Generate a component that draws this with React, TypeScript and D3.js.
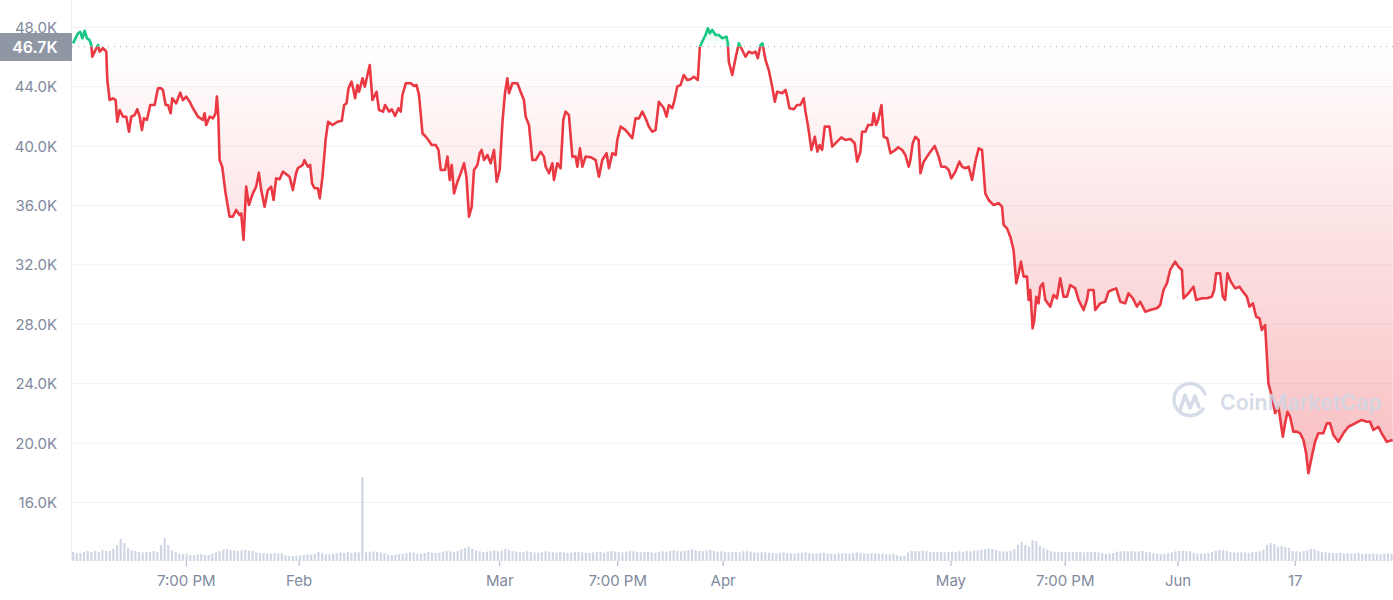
import { useEffect } from 'react'
import * as d3 from 'd3'

// price points: [days since Jan 1, price in thousands USD]
const priceSeries: [number, number][] = [
  [0.14, 46.92], [0.82, 47.6], [1.13, 47.7], [1.41, 47.26], [1.73, 47.77], [2.05, 47.26], [2.41, 47.14],
  [2.63, 46.81], [2.77, 46.02], [3.1, 46.36], [3.55, 46.81], [3.78, 46.36], [4.23, 46.59], [4.68, 46.36],
  [4.82, 44.45], [5.14, 43.1], [5.59, 43.22], [5.96, 43.1], [6.18, 41.64], [6.51, 42.43], [6.96, 41.98],
  [7.41, 41.98], [7.78, 40.97], [8.09, 41.98], [8.55, 42.09], [8.91, 42.48], [9.24, 41.98], [9.55, 41.08],
  [9.82, 41.87], [10.23, 41.76], [10.68, 42.77], [11.28, 42.77], [11.73, 43.89], [12.18, 43.89], [12.41, 43.78],
  [12.78, 42.77], [13.1, 42.77], [13.47, 42.21], [13.68, 43.22], [14.23, 42.88], [14.77, 43.6], [15.14, 43.1],
  [15.59, 43.33], [16.06, 42.99], [16.51, 42.55], [17.19, 41.98], [17.87, 41.76], [18.1, 42.21], [18.32, 41.42],
  [18.79, 41.98], [19.24, 41.87], [19.6, 42.21], [19.78, 43.33], [19.96, 42.21], [20.15, 39.06], [20.51, 38.61],
  [20.97, 36.82], [21.51, 35.25], [21.96, 35.25], [22.41, 35.7], [22.88, 35.36], [23.1, 35.47], [23.42, 33.68],
  [23.78, 37.27], [24.15, 36.03], [24.69, 36.82], [25.14, 37.27], [25.51, 38.21], [25.83, 37.04], [26.29, 35.92],
  [26.74, 37.04], [27.19, 37.27], [27.52, 36.37], [27.87, 37.83], [28.34, 37.76], [28.79, 38.28], [29.7, 37.94],
  [30.15, 37.04], [30.6, 38.17], [30.83, 38.51], [31.51, 38.73], [31.73, 39.06], [32.2, 38.61], [32.51, 38.73],
  [32.78, 37.49], [33.1, 37.16], [33.56, 37.16], [33.83, 36.48], [34.2, 37.94], [34.65, 40.53], [34.97, 41.64],
  [35.57, 41.42], [36.25, 41.64], [36.84, 41.71], [37.15, 42.77], [37.48, 42.88], [37.75, 43.89], [38.16, 44.34],
  [38.38, 43.89], [38.65, 43.22], [38.98, 44.11], [39.2, 43.66], [39.66, 44.57], [39.97, 44.0], [40.34, 44.79],
  [40.65, 45.46], [41.02, 43.1], [41.57, 43.66], [41.92, 42.43], [42.47, 42.32], [42.74, 42.77], [43.29, 42.32],
  [43.66, 42.48], [44.11, 42.03], [44.57, 42.55], [44.88, 42.32], [45.11, 43.44], [45.57, 44.23], [46.25, 44.23],
  [46.7, 44.05], [47.03, 44.11], [47.38, 43.44], [47.85, 40.86], [48.3, 40.63], [48.66, 40.41], [49.11, 40.07],
  [49.66, 40.07], [50.03, 39.74], [50.34, 38.39], [50.93, 38.39], [51.26, 39.29], [51.57, 37.72], [51.84, 38.73],
  [52.16, 36.82], [52.62, 37.6], [53.07, 38.17], [53.52, 38.84], [53.85, 37.94], [54.2, 35.25], [54.57, 35.92],
  [54.88, 38.39], [55.35, 38.73], [55.66, 39.52], [55.93, 39.74], [56.25, 39.06], [56.71, 39.4], [57.16, 38.84],
  [57.61, 39.74], [57.98, 37.6], [58.39, 38.39], [58.76, 41.54], [59.11, 43.56], [59.44, 44.57], [59.66, 43.56],
  [60.12, 44.23], [60.8, 44.23], [61.25, 43.66], [61.7, 43.1], [61.94, 41.98], [62.39, 41.42], [62.85, 39.06],
  [63.3, 39.06], [63.98, 39.62], [64.43, 39.29], [64.67, 38.61], [65.12, 38.17], [65.58, 38.84], [65.8, 37.72],
  [66.26, 38.84], [66.71, 38.51], [67.08, 41.76], [67.39, 42.32], [67.84, 42.09], [68.31, 39.29], [68.76, 39.29],
  [68.99, 38.61], [69.35, 39.85], [69.67, 38.61], [70.12, 39.29], [70.81, 39.25], [71.49, 39.06], [71.94, 37.94],
  [72.4, 39.06], [72.99, 39.52], [73.3, 38.51], [73.77, 39.52], [74.22, 39.4], [74.45, 40.41], [74.9, 41.31],
  [75.58, 41.08], [76.49, 40.53], [76.94, 41.87], [77.4, 41.87], [77.86, 42.32], [78.31, 41.87], [78.76, 41.31],
  [79.22, 40.97], [79.67, 41.08], [80.12, 42.99], [80.8, 42.55], [81.17, 41.98], [81.49, 42.77], [81.95, 42.55],
  [82.26, 43.1], [82.63, 44.0], [83.08, 44.11], [83.53, 44.79], [83.99, 44.45], [84.45, 44.5], [84.9, 44.67],
  [85.44, 44.45], [85.72, 46.69], [86.04, 47.03], [86.49, 47.48], [86.81, 47.93], [87.08, 47.6], [87.41, 47.82],
  [87.86, 47.48], [88.31, 47.48], [88.77, 47.26], [89.36, 47.37], [89.54, 46.92], [89.67, 45.68], [90.14, 44.79],
  [90.59, 45.91], [91.04, 46.92], [91.5, 46.47], [91.95, 46.02], [92.4, 46.36], [92.87, 46.25], [93.32, 46.36],
  [93.63, 45.91], [94.0, 46.81], [94.27, 46.92], [94.68, 45.8], [95.13, 45.12], [95.59, 44.0], [95.95, 42.99],
  [96.27, 43.66], [96.96, 43.56], [97.41, 43.78], [97.64, 43.33], [97.95, 42.55], [98.54, 42.48], [99.0, 42.77],
  [99.45, 42.77], [99.9, 43.22], [100.14, 42.32], [100.5, 41.31], [100.95, 39.74], [101.41, 40.63], [101.77, 39.62],
  [102.05, 40.07], [102.41, 39.74], [102.77, 41.31], [103.41, 41.31], [103.78, 39.96], [104.46, 40.3], [105.05, 40.59],
  [105.59, 40.41], [106.28, 40.48], [106.86, 40.19], [107.19, 38.95], [107.64, 39.62], [107.87, 40.97], [108.32, 40.97],
  [108.69, 41.42], [109.24, 41.42], [109.45, 42.21], [109.78, 41.42], [110.06, 41.76], [110.51, 42.77], [110.82, 40.63],
  [111.29, 40.53], [111.74, 39.52], [112.42, 39.74], [112.79, 39.92], [113.34, 39.74], [113.78, 39.4], [114.23, 38.61],
  [114.46, 39.06], [114.78, 40.19], [115.14, 40.63], [115.59, 40.41], [115.83, 38.17], [116.28, 38.95], [116.74, 39.29],
  [117.19, 39.62], [117.78, 40.01], [118.32, 39.29], [118.69, 38.61], [119.24, 38.61], [119.69, 38.39], [120.05, 37.83],
  [120.6, 38.28], [121.15, 38.95], [121.52, 38.61], [121.96, 38.51], [122.42, 38.61], [122.88, 37.72], [123.33, 38.95],
  [123.78, 39.85], [124.24, 39.74], [124.69, 36.82], [125.14, 36.37], [125.82, 36.03], [126.51, 36.15], [126.97, 35.92],
  [127.19, 34.69], [127.65, 34.46], [128.1, 33.9], [128.55, 33.0], [128.92, 30.76], [129.24, 31.43], [129.56, 32.22],
  [129.92, 31.21], [130.38, 31.21], [130.6, 29.64], [130.83, 30.31], [131.15, 27.73], [131.38, 28.29], [131.65, 29.86],
  [131.96, 29.41], [132.2, 30.53], [132.56, 30.76], [132.88, 29.64], [133.56, 29.19], [134.01, 29.97], [134.47, 29.75],
  [134.92, 31.1], [135.37, 29.86], [135.84, 29.86], [136.29, 30.65], [136.97, 30.42], [137.42, 29.64], [138.1, 28.96],
  [138.57, 29.64], [138.78, 30.31], [139.47, 30.31], [139.7, 28.96], [140.38, 29.41], [141.06, 29.52], [141.51, 30.2],
  [141.98, 30.31], [142.56, 30.42], [143.11, 29.52], [143.79, 29.41], [144.24, 30.09], [144.84, 29.75], [145.39, 29.19],
  [145.84, 29.52], [146.52, 28.85], [147.2, 28.96], [148.12, 29.08], [148.57, 29.3], [149.02, 30.31], [149.48, 30.76],
  [149.93, 31.66], [150.61, 32.22], [151.06, 31.88], [151.53, 31.66], [151.75, 29.75], [152.43, 30.09], [153.11, 30.53],
  [153.48, 29.64], [154.26, 29.75], [154.94, 29.75], [155.62, 29.86], [155.93, 30.31], [156.21, 31.43], [156.75, 31.43],
  [157.12, 29.86], [157.44, 29.64], [157.75, 31.43], [158.21, 30.87], [158.8, 30.42], [159.39, 30.53], [159.85, 30.2],
  [160.4, 29.86], [160.75, 29.19], [161.22, 29.41], [161.67, 28.51], [162.12, 28.4], [162.44, 27.62], [162.89, 27.95],
  [163.34, 24.03], [163.81, 23.12], [164.26, 22.01], [164.71, 22.45], [165.31, 20.43], [165.62, 21.33], [165.94, 22.11],
  [166.3, 21.78], [166.75, 20.77], [167.22, 20.77], [167.67, 20.66], [168.12, 20.21], [168.49, 19.31], [168.8, 17.97],
  [169.26, 19.08], [169.71, 20.09], [170.16, 20.66], [170.84, 20.66], [171.31, 21.33], [171.76, 21.33], [172.21, 20.55],
  [172.89, 20.09], [173.57, 20.66], [174.26, 21.1], [175.17, 21.33], [176.08, 21.56], [176.77, 21.44], [177.22, 21.44],
  [177.67, 20.88], [178.35, 21.1], [178.81, 20.66], [179.49, 20.09], [180.31, 20.21],
]

// 12-hour volume, billions USD
const volumes: number[] = [
  25, 22, 22, 25, 28, 25, 28, 25, 31, 28,
  28, 34, 45, 62, 50, 36, 30, 28, 25, 24,
  25, 25, 28, 25, 45, 64, 44, 30, 25, 21,
  20, 20, 17, 17, 19, 20, 17, 17, 20, 24,
  28, 32, 33, 31, 30, 28, 30, 31, 29, 28,
  24, 22, 22, 21, 20, 22, 21, 21, 16, 14,
  14, 15, 15, 17, 19, 18, 20, 25, 22, 19,
  18, 20, 22, 24, 22, 25, 23, 25, 24, 235,
  24, 25, 27, 25, 24, 22, 18, 17, 18, 19,
  20, 22, 24, 23, 21, 20, 22, 25, 24, 22,
  23, 26, 28, 27, 25, 28, 32, 36, 40, 34,
  30, 27, 25, 26, 28, 30, 27, 29, 34, 31,
  28, 26, 24, 25, 27, 26, 24, 23, 25, 27,
  26, 24, 23, 25, 24, 22, 23, 25, 26, 24,
  23, 22, 24, 26, 25, 23, 27, 28, 26, 25,
  24, 26, 28, 27, 25, 24, 26, 25, 24, 23,
  25, 27, 26, 28, 30, 29, 27, 28, 31, 33,
  30, 28, 27, 29, 31, 28, 26, 27, 25, 24,
  26, 25, 24, 27, 28, 26, 24, 23, 25, 24,
  23, 22, 21, 23, 24, 22, 21, 20, 22, 23,
  24, 22, 21, 20, 22, 23, 21, 20, 19, 21,
  22, 21, 20, 22, 24, 23, 21, 20, 22, 21,
  20, 21, 19, 18, 20, 16, 14, 15, 24, 28,
  28, 27, 29, 28, 26, 25, 26, 25, 24, 25,
  26, 25, 27, 26, 28, 27, 29, 30, 31, 33,
  35, 34, 31, 28, 27, 26, 28, 33, 45, 53,
  45, 40, 59, 56, 42, 36, 32, 28, 26, 25,
  26, 25, 26, 25, 26, 25, 24, 26, 25, 26,
  24, 22, 20, 21, 22, 26, 27, 28, 27, 28,
  26, 27, 28, 26, 24, 22, 20, 19, 20, 21,
  24, 27, 28, 29, 28, 27, 23, 21, 20, 21,
  22, 25, 29, 31, 30, 28, 25, 24, 23, 25,
  24, 23, 25, 26, 28, 32, 45, 50, 48, 40,
  42, 39, 36, 28, 27, 26, 28, 30, 34, 33,
  28, 25, 24, 23, 22, 22, 23, 21, 22, 21,
  21, 22, 20, 21, 20, 21, 20, 19, 20, 21, 20,
]

const yTicks = [16, 20, 24, 28, 32, 36, 40, 44, 48]
const xTickDays = [15.6, 31, 58.4, 74.5, 88.9, 120, 135.6, 151, 167]
const xTickLabels = ['7:00 PM', 'Feb', 'Mar', '7:00 PM', 'Apr', 'May', '7:00 PM', 'Jun', '17']
const basePrice = 46.7

const W = 1393
const H = 600
const START = Date.UTC(2022, 0, 1)
const DAY = 86400000
const toDate = (d: number) => new Date(START + d * DAY)

const RED = '#ea3943'
const GREEN = '#16c784'
const LABEL = '#808a9d'
const GRID = '#eff2f5'

export default function App() {
  useEffect(() => {
    document.body.style.margin = '0'
  }, [])

  const x = d3
    .scaleTime()
    .domain([toDate(0), toDate(180.35)])
    .range([72, W])
  const y = d3.scaleLinear().domain([16, 48]).range([502.5, 27.3])
  const vol = d3.scaleLinear().domain([0, 235]).range([0, 84])

  const yBase = y(basePrice)
  const line = d3
    .line<[number, number]>()
    .x((d) => x(toDate(d[0])))
    .y((d) => y(d[1]))
  const area = d3
    .area<[number, number]>()
    .x((d) => x(toDate(d[0])))
    .y0(yBase)
    .y1((d) => y(d[1]))

  const linePath = line(priceSeries) ?? ''
  const areaPath = area(priceSeries) ?? ''

  return (
    <div style={{ position: 'absolute', left: 0, top: 0 }}>
      <svg width={W} height={H} style={{ display: 'block', fontFamily: 'Inter, sans-serif' }}>
        <defs>
          <clipPath id="below">
            <rect x={0} y={yBase} width={W} height={H - yBase} />
          </clipPath>
          <clipPath id="above">
            <rect x={0} y={0} width={W} height={yBase} />
          </clipPath>
          <linearGradient id="redFill" gradientUnits="userSpaceOnUse" x1={0} y1={yBase} x2={0} y2={y(18)}>
            <stop offset="0" stopColor={RED} stopOpacity={0} />
            <stop offset="1" stopColor={RED} stopOpacity={0.33} />
          </linearGradient>
          <linearGradient id="greenFill" gradientUnits="userSpaceOnUse" x1={0} y1={yBase} x2={0} y2={y(48)}>
            <stop offset="0" stopColor={GREEN} stopOpacity={0} />
            <stop offset="1" stopColor={GREEN} stopOpacity={0.15} />
          </linearGradient>
        </defs>

        {/* grid */}
        {yTicks.map((t) => (
          <line key={t} x1={72} x2={W} y1={y(t)} y2={y(t)} stroke={GRID} strokeWidth={1} />
        ))}
        <line x1={71.5} x2={71.5} y1={0} y2={561} stroke={GRID} strokeWidth={1} />

        {/* volume */}
        {volumes.map((v, i) => (
          <rect
            key={i}
            x={x(toDate(i * 0.5 + 0.15)) - 1.1}
            y={561 - vol(v)}
            width={2.2}
            height={vol(v)}
            fill="#cfd6e4"
          />
        ))}

        {/* area */}
        <path d={areaPath} fill="url(#redFill)" clipPath="url(#below)" />
        <path d={areaPath} fill="url(#greenFill)" clipPath="url(#above)" />

        {/* baseline */}
        <line x1={72} x2={W} y1={yBase} y2={yBase} stroke="#a1a7b3" strokeWidth={1} strokeDasharray="1 5" />

        {/* price line */}
        <path d={linePath} fill="none" stroke={RED} strokeWidth={2.6} strokeLinejoin="round" clipPath="url(#below)" />
        <path d={linePath} fill="none" stroke={GREEN} strokeWidth={2.6} strokeLinejoin="round" clipPath="url(#above)" />

        {/* y labels */}
        {yTicks.map((t) => (
          <text key={t} x={57} y={y(t)} dy="0.36em" textAnchor="end" fontSize={15} fill={LABEL}>
            {`${t.toFixed(1)}K`}
          </text>
        ))}
        <rect x={0} y={33} width={72} height={28} fill="#8f96a4" />
        <text x={35} y={47} dy="0.36em" textAnchor="middle" fontSize={16} fontWeight={600} fill="#fff">
          {`${basePrice}K`}
        </text>

        {/* x axis */}
        {xTickDays.map((d, i) => (
          <g key={i} transform={`translate(${x(toDate(d))},0)`}>
            <line y1={561} y2={566} stroke="#a6aebb" strokeWidth={1} />
            <text y={581} dy="0.36em" textAnchor="middle" fontSize={15} fill={LABEL}>
              {xTickLabels[i]}
            </text>
          </g>
        ))}

        {/* watermark */}
        <g opacity={0.85} fill="none" stroke="#cfd6e4">
          <path d="M1203 409 A16 16 0 1 1 1205 394" strokeWidth={3.5} strokeLinecap="round" />
          <path
            d="M1180 410 L1185 395 L1190 408 L1195 396 L1199 407"
            strokeWidth={3.5}
            strokeLinecap="round"
            strokeLinejoin="round"
          />
        </g>
        <text
          x={1220}
          y={402}
          dy="0.36em"
          fontSize={22}
          fontWeight={600}
          fill="#cfd6e4"
          opacity={0.85}
          textLength={162}
          lengthAdjust="spacingAndGlyphs"
        >
          CoinMarketCap
        </text>
      </svg>
    </div>
  )
}
